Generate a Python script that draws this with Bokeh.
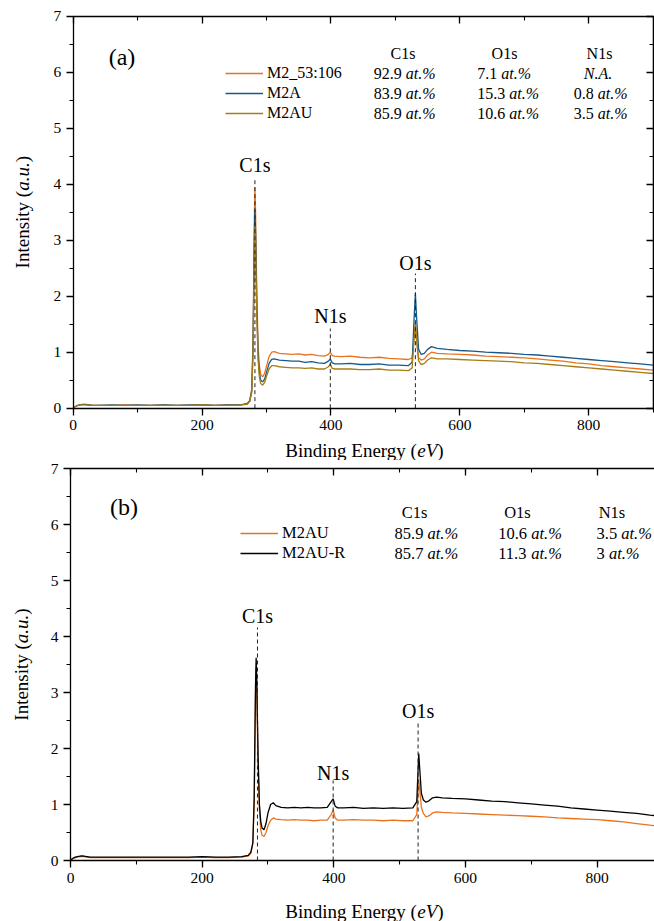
import math
from bokeh.plotting import figure
from bokeh.layouts import column
from bokeh.models import (Range1d, LinearAxis, SingleIntervalTicker, Label, Legend, LegendItem,
                          ColumnDataSource, CustomJSTickFormatter)
from bokeh.core.properties import value
from bokeh.embed import file_html
from bokeh.resources import INLINE

energy = [0, 5, 10, 15, 20, 30, 40, 60, 80, 100,
          120, 140, 160, 180, 200, 220, 240, 260, 270, 274,
          277, 279, 280, 281, 282, 283, 285, 287, 289, 291,
          294, 297, 300, 304, 308, 312, 320, 330, 340, 350,
          360, 370, 380, 390, 396, 399, 402, 406, 415, 430,
          445, 460, 475, 490, 505, 520, 526, 529, 531, 533,
          536, 540, 545, 550, 556, 565, 580, 600, 620, 640,
          660, 680, 700, 720, 740, 760, 780, 800, 820, 840,
          860, 880, 900]

a_m2_53 = [0.01, 0.04, 0.06, 0.07, 0.06, 0.05, 0.05, 0.05, 0.06, 0.05,
           0.05, 0.06, 0.05, 0.05, 0.06, 0.05, 0.06, 0.06, 0.08, 0.14,
           0.35, 1.2, 2.2, 3.3, 3.95, 3.5, 2.0, 1.1, 0.75, 0.6,
           0.56, 0.62, 0.75, 0.92, 1.0, 1.01, 0.98, 0.97, 0.96, 0.97,
           0.95, 0.96, 0.94, 0.93, 0.96, 1.0, 0.94, 0.93, 0.92, 0.93,
           0.91, 0.9, 0.91, 0.89, 0.88, 0.87, 0.9, 1.25, 1.52, 1.2,
           0.9, 0.86, 0.88, 0.95, 1.0, 0.98, 0.97, 0.96, 0.95, 0.93,
           0.92, 0.91, 0.9, 0.88, 0.86, 0.84, 0.81, 0.79, 0.76, 0.74,
           0.72, 0.7, 0.68]

a_m2a = [0.01, 0.04, 0.06, 0.07, 0.07, 0.05, 0.05, 0.06, 0.05, 0.06,
         0.05, 0.06, 0.05, 0.06, 0.06, 0.05, 0.06, 0.06, 0.08, 0.13,
         0.3, 1.05, 2.0, 3.0, 3.55, 3.15, 1.8, 0.95, 0.62, 0.5,
         0.47, 0.52, 0.64, 0.8, 0.87, 0.88, 0.86, 0.85, 0.84, 0.84,
         0.82, 0.83, 0.81, 0.8, 0.84, 0.88, 0.81, 0.79, 0.79, 0.8,
         0.78, 0.78, 0.79, 0.77, 0.77, 0.76, 0.82, 1.6, 2.05, 1.6,
         1.05, 0.96, 0.98, 1.05, 1.1, 1.07, 1.05, 1.03, 1.02, 1.0,
         0.99, 0.98, 0.96, 0.95, 0.93, 0.91, 0.89, 0.87, 0.85, 0.83,
         0.81, 0.79, 0.77]

a_m2au = [0.01, 0.04, 0.06, 0.06, 0.06, 0.05, 0.05, 0.05, 0.05, 0.05,
          0.05, 0.05, 0.05, 0.05, 0.06, 0.05, 0.05, 0.06, 0.07, 0.12,
          0.28, 0.95, 1.8, 2.7, 3.25, 2.9, 1.6, 0.85, 0.55, 0.44,
          0.41, 0.46, 0.57, 0.7, 0.76, 0.76, 0.74, 0.73, 0.72, 0.72,
          0.71, 0.72, 0.7, 0.7, 0.74, 0.79, 0.71, 0.7, 0.7, 0.7,
          0.69, 0.69, 0.7, 0.68, 0.68, 0.67, 0.72, 1.25, 1.5, 1.2,
          0.85, 0.78, 0.8, 0.86, 0.9, 0.88, 0.88, 0.87, 0.86, 0.85,
          0.84, 0.83, 0.81, 0.8, 0.78, 0.76, 0.74, 0.72, 0.7, 0.68,
          0.66, 0.64, 0.62]

b_m2au = [0.01, 0.04, 0.06, 0.07, 0.07, 0.05, 0.05, 0.05, 0.05, 0.05,
          0.05, 0.05, 0.05, 0.05, 0.06, 0.05, 0.05, 0.06, 0.08, 0.13,
          0.3, 1.0, 1.9, 2.9, 3.45, 3.0, 1.7, 0.9, 0.55, 0.45,
          0.43, 0.5, 0.62, 0.72, 0.76, 0.74, 0.73, 0.72, 0.73, 0.72,
          0.72, 0.71, 0.72, 0.72, 0.82, 0.9, 0.76, 0.72, 0.72, 0.73,
          0.72, 0.72, 0.71, 0.72, 0.71, 0.71, 0.82, 1.45, 1.2, 0.95,
          0.84, 0.78, 0.8, 0.85, 0.87, 0.86, 0.85, 0.84, 0.83, 0.82,
          0.81, 0.8, 0.79, 0.78, 0.76, 0.75, 0.74, 0.73, 0.71, 0.69,
          0.66, 0.63, 0.61]

b_m2aur = [0.01, 0.05, 0.07, 0.08, 0.08, 0.06, 0.06, 0.06, 0.06, 0.06,
           0.06, 0.06, 0.06, 0.06, 0.07, 0.06, 0.06, 0.07, 0.09, 0.15,
           0.32, 1.1, 2.1, 3.1, 3.62, 3.2, 1.85, 1.0, 0.7, 0.58,
           0.55, 0.66, 0.85, 1.0, 1.03, 0.98, 0.95, 0.94, 0.95, 0.94,
           0.95, 0.94, 0.94, 0.95, 1.05, 1.1, 0.97, 0.94, 0.94, 0.95,
           0.93, 0.94, 0.93, 0.94, 0.93, 0.94, 1.05, 1.91, 1.55, 1.2,
           1.08, 1.04, 1.07, 1.12, 1.13, 1.12, 1.11, 1.1, 1.08, 1.06,
           1.05, 1.03, 1.01, 0.99, 0.97, 0.94, 0.92, 0.9, 0.88, 0.86,
           0.84, 0.81, 0.79]

peak_names = ["C1s", "N1s", "O1s"]
peak_be_a = [282, 399, 531]
peak_be_b = [284, 399, 528]

table_cols = ["C1s", "O1s", "N1s"]
samples_a = ["M2_53:106", "M2A", "M2AU"]
c1s_a = ["92.9", "83.9", "85.9"]
o1s_a = ["7.1", "15.3", "10.6"]
n1s_a = ["N.A.", "0.8", "3.5"]
samples_b = ["M2AU", "M2AU-R"]
c1s_b = ["85.9", "85.7"]
o1s_b = ["10.6", "11.3"]
n1s_b = ["3.5", "3"]

SERIF = "Liberation Serif"
ORANGE = "#E8731C"
BLUE = "#16598A"
GOLD = "#A87C12"
BLACK = "#000000"
PAGE_W = 654
YS = 56.0

ROMAN = {".": 0.25, " ": 0.25, "(": 0.333, ")": 0.333, "I": 0.333, "n": 0.5, "t": 0.278,
         "e": 0.444, "s": 0.389, "i": 0.278, "y": 0.5, "B": 0.667, "d": 0.5, "g": 0.5,
         "E": 0.611, "r": 0.333}
ITALIC = {"a": 0.5, "u": 0.5, ".": 0.25, "e": 0.444, "V": 0.611, "t": 0.278, "%": 0.833,
          "N": 0.667, "A": 0.611}


def tw(s, size, italic=False):
    tab = ITALIC if italic else ROMAN
    return sum(tab.get(c, 0.5) for c in s) * size


def style_axis(ax, out=True, labels=True):
    ax.axis_line_width = 1.3
    ax.axis_line_color = "black"
    ax.major_tick_line_width = 1.3
    ax.minor_tick_line_width = 1.1
    ax.major_tick_line_color = "black"
    ax.minor_tick_line_color = "black"
    if out:
        ax.major_tick_out, ax.major_tick_in = 7, 0
        ax.minor_tick_out, ax.minor_tick_in = 4, 0
    else:
        ax.major_tick_out, ax.major_tick_in = 0, 7
        ax.minor_tick_out, ax.minor_tick_in = 0, 4
    if labels:
        ax.major_label_text_font = SERIF
        ax.major_label_text_font_size = "15.5px"
        ax.major_label_text_color = "black"
        ax.major_label_standoff = 5
    else:
        ax.formatter = CustomJSTickFormatter(code="return ''")
        ax.major_label_text_font_size = "0px"
        ax.major_label_standoff = 0


class Panel:
    def __init__(self, top, height, x0, xs, y0, x_end_axis, framed):
        self.top, self.height, self.x0, self.xs, self.y0 = top, height, x0, xs, y0
        xr = Range1d(self.dx(0), self.dx(PAGE_W))
        yr = Range1d(self.dy(top + height), self.dy(top))
        p = figure(width=PAGE_W, height=height, x_range=xr, y_range=yr,
                   x_axis_location=None, y_axis_location=None,
                   min_border=0, output_backend="svg", toolbar_location=None,
                   outline_line_color=None, background_fill_color="white",
                   border_fill_color="white")
        p.xgrid.visible = False
        p.ygrid.visible = False
        self.p = p
        bottom = LinearAxis(fixed_location=0, bounds=(0, x_end_axis),
                            ticker=SingleIntervalTicker(interval=200, num_minor_ticks=2))
        style_axis(bottom)
        p.add_layout(bottom, "below")
        left = LinearAxis(fixed_location=0, bounds=(0, 7),
                          ticker=SingleIntervalTicker(interval=1, num_minor_ticks=2))
        style_axis(left)
        p.add_layout(left, "left")
        topax = LinearAxis(fixed_location=7, bounds=(0, x_end_axis),
                           ticker=SingleIntervalTicker(interval=200, num_minor_ticks=2))
        style_axis(topax, out=False, labels=False)
        p.add_layout(topax, "above")
        if framed:
            rightax = LinearAxis(fixed_location=x_end_axis, bounds=(0, 7),
                                 ticker=SingleIntervalTicker(interval=1, num_minor_ticks=2))
            style_axis(rightax, out=False, labels=False)
            rightax.axis_line_width = 1.6
            p.add_layout(rightax, "right")

    def dx(self, px):
        return (px - self.x0) / self.xs

    def dy(self, py):
        return (self.y0 - py) / YS


def axis_titles(P, ylab_px, ylab_center_py, xlab_center_px, xlab_py):
    p = P.p
    fs = 19
    parts = [("Intensity (", "normal"), ("a.u.", "italic"), (")", "normal")]
    total = sum(tw(t, fs, s == "italic") for t, s in parts)
    py = ylab_center_py + total / 2
    for t, s in parts:
        p.add_layout(Label(x=P.dx(ylab_px), y=P.dy(py), text=t,
                           angle=math.pi / 2, text_align="left", text_baseline="middle",
                           text_font=SERIF, text_font_size=f"{fs}px", text_font_style=s,
                           text_color="black"))
        py -= tw(t, fs, s == "italic")
    parts = [("Binding Energy (", "normal"), ("eV", "italic"), (")", "normal")]
    total = sum(tw(t, fs, s == "italic") for t, s in parts)
    px = xlab_center_px - total / 2
    for t, s in parts:
        p.add_layout(Label(x=P.dx(px), y=P.dy(xlab_py), text=t,
                           text_align="left", text_baseline="middle",
                           text_font=SERIF, text_font_size=f"{fs}px", text_font_style=s,
                           text_color="black"))
        px += tw(t, fs, s == "italic")


def add_peaks(P, be, tops_py, label_py):
    src = ColumnDataSource(dict(x=be, y0=[0] * len(be), y1=[P.dy(v) for v in tops_py],
                                ly=[P.dy(v) for v in label_py], t=peak_names))
    P.p.segment(x0="x", y0="y0", x1="x", y1="y1", source=src, line_color="#222222",
                line_width=1, line_dash="4 3")
    P.p.text(x="x", y="ly", text="t", source=src, text_font=value(SERIF),
             text_font_size=value("20px"), text_align="center", text_baseline="middle",
             text_color="black")


def add_table(P, header_px, header_py, col_px, row_py, columns, fs):
    p = P.p
    hs = ColumnDataSource(dict(x=[P.dx(v) for v in header_px],
                               y=[P.dy(header_py)] * len(header_px), t=table_cols))
    p.text(x="x", y="y", text="t", source=hs, text_font=value(SERIF),
           text_font_size=value(f"{fs}px"), text_align="center", text_baseline="middle",
           text_color="black")
    nx, ny, nt = [], [], []
    ix, iy, it, io = [], [], [], []
    for c, col in enumerate(columns):
        for r, v in enumerate(col):
            x, y = P.dx(col_px[c]), P.dy(row_py[r])
            if v == "N.A.":
                ix.append(x); iy.append(y); it.append(v); io.append(10)
            else:
                nx.append(x); ny.append(y); nt.append(v)
                ix.append(x); iy.append(y); it.append("at.%")
                io.append(tw(v + " ", fs))
    ns = ColumnDataSource(dict(x=nx, y=ny, t=nt))
    p.text(x="x", y="y", text="t", source=ns, text_font=value(SERIF),
           text_font_size=value(f"{fs}px"), text_align="left", text_baseline="middle",
           text_color="black")
    isrc = ColumnDataSource(dict(x=ix, y=iy, t=it, o=io))
    p.text(x="x", y="y", text="t", x_offset="o", source=isrc, text_font=value(SERIF),
           text_font_size=value(f"{fs}px"), text_font_style="italic", text_align="left",
           text_baseline="middle", text_color="black")


def add_legend(P, renderers, names, left_px, top_py, fs):
    items = [LegendItem(label=value(n), renderers=[r]) for n, r in zip(names, renderers)]
    bottom_py = top_py + 20 * len(names)
    loc = (left_px, P.top + P.height - bottom_py)
    lg = Legend(items=items, location=loc, padding=0, margin=0, spacing=0,
                glyph_width=38, glyph_height=20, label_height=20, label_standoff=4,
                label_text_font=SERIF, label_text_font_size=f"{fs}px", label_text_color="black",
                background_fill_alpha=0, border_line_alpha=0)
    P.p.add_layout(lg, "center")


def add_tag(P, text, cx, cy):
    P.p.add_layout(Label(x=P.dx(cx), y=P.dy(cy), text=text, text_font=SERIF,
                         text_font_size="24px", text_align="center",
                         text_baseline="middle", text_color="black"))


A = Panel(top=0, height=460, x0=72.7, xs=0.6444, y0=407.7, x_end_axis=900, framed=True)
src_a = ColumnDataSource(dict(e=energy, s1=a_m2_53, s2=a_m2a, s3=a_m2au))
ra1 = A.p.line("e", "s1", source=src_a, line_color=ORANGE, line_width=1.3)
ra2 = A.p.line("e", "s2", source=src_a, line_color=BLUE, line_width=1.3)
ra3 = A.p.line("e", "s3", source=src_a, line_color=GOLD, line_width=1.3)
add_peaks(A, peak_be_a, [177, 328, 273], [164, 315, 262])
add_table(A, [402.5, 504, 599], 53.3, [373.3, 476.7, 573.3], [73.3, 93.3, 113.3],
          [c1s_a, o1s_a, n1s_a], 16)
add_legend(A, [ra1, ra2, ra3], samples_a, 225, 63.3, 16)
add_tag(A, "(a)", 121.5, 56)
axis_titles(A, 22, 211.7, 364, 450)

B = Panel(top=460, height=461, x0=70, xs=0.6583, y0=860, x_end_axis=900, framed=False)
src_b = ColumnDataSource(dict(e=energy, s1=b_m2au, s2=b_m2aur))
rb1 = B.p.line("e", "s1", source=src_b, line_color=ORANGE, line_width=1.3)
rb2 = B.p.line("e", "s2", source=src_b, line_color=BLACK, line_width=1.3)
add_peaks(B, peak_be_b, [627, 780, 723], [615, 772, 710])
add_table(B, [414, 517, 611.5], 511.7, [394, 497.7, 596], [533.3, 553.3],
          [c1s_b, o1s_b, n1s_b], 16.5)
add_legend(B, [rb1, rb2], samples_b, 240, 523.3, 16.5)
add_tag(B, "(b)", 123.5, 506.7)
axis_titles(B, 21, 664, 364, 911)

layout = column(A.p, B.p)
open("out.html", "w").write(file_html(layout, INLINE))
